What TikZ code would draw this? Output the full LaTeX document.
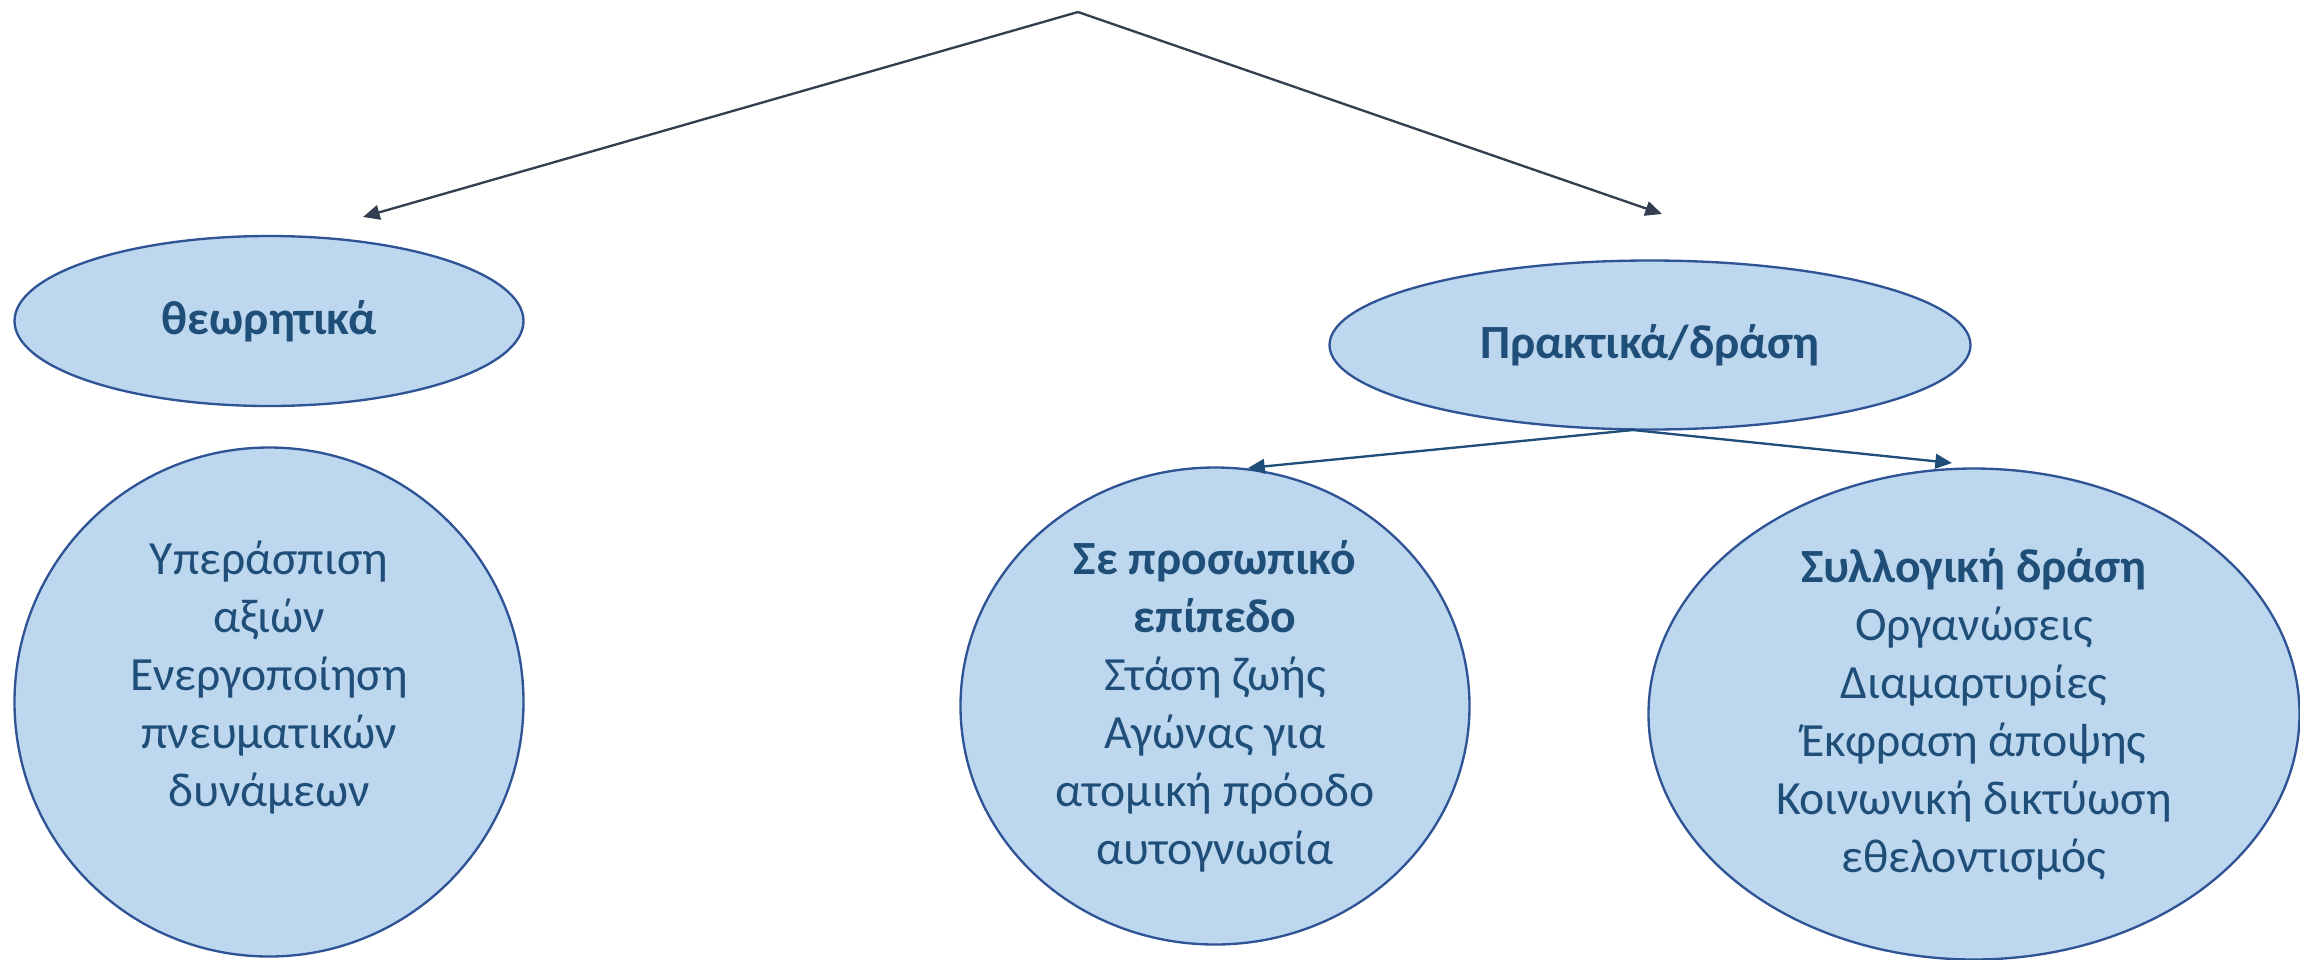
\documentclass[tikz,border=0pt]{standalone}
\usepackage{fontspec}
\setmainfont{Carlito}
\usetikzlibrary{shapes.geometric}
\usetikzlibrary{arrows.meta}
\definecolor{bubble}{HTML}{BDD7EE}
\definecolor{rim}{HTML}{2F5496}
\definecolor{ink}{HTML}{1F4E79}
\definecolor{slate}{HTML}{333F50}

\begin{document}
\begin{tikzpicture}[x=0.3pt, y=-0.3pt,
    bubble/.style={ellipse, draw=rim, fill=bubble, line width=0.7pt, inner sep=0pt},
    words/.style={text=ink, align=center, font=\fontsize{14.3}{17.4}\selectfont},
    link/.style={-{Triangle[length=5pt,width=4.4pt]}, line width=0.7pt}]
        \useasboundingbox (0,0) rectangle (2300,959);
        % top level
        \coordinate (apex) at (1078,12);
        \coordinate (leftend) at (363,217);
        \coordinate (rightend) at (1662,214);
        \draw [link, slate] (apex) -- (leftend);
        \draw [link, slate] (apex) -- (rightend);
        % the two branches
        \node (theory) at (269,321) [bubble, words, minimum width=152.7pt, minimum height=51pt] {\textbf{θεωρητικά}};
        \node (practice) at (1650,345) [bubble, words, minimum width=192.3pt, minimum height=50.7pt] {\textbf{Πρακτικά/δράση}};
        \node (values) at (269,702) [bubble, minimum width=152.7pt, minimum height=152.7pt] {};
        \node (valuestext) at (269,678) [words] {Υπεράσπιση\\αξιών\\Ενεργοποίηση\\πνευματικών\\δυνάμεων};
        \node (personal) at (1215,706) [bubble, words, minimum width=152.7pt, minimum height=143.1pt] {\textbf{Σε προσωπικό}\\\textbf{επίπεδο}\\Στάση ζωής\\Αγώνας για\\ατομική πρόοδο\\αυτογνωσία};
        \node (collective) at (1974,714) [bubble, words, minimum width=195.3pt, minimum height=147.3pt] {\textbf{Συλλογική δράση}\\Οργανώσεις\\Διαμαρτυρίες\\Έκφραση άποψης\\Κοινωνική δικτύωση\\εθελοντισμός};
        % practice splits in two
        \coordinate (fork) at (1633,430);
        \coordinate (midend) at (1248,468);
        \coordinate (farend) at (1952,463);
        \draw [link, ink] (fork) -- (midend);
        \draw [link, ink] (fork) -- (farend);
    \end{tikzpicture}
\end{document}
